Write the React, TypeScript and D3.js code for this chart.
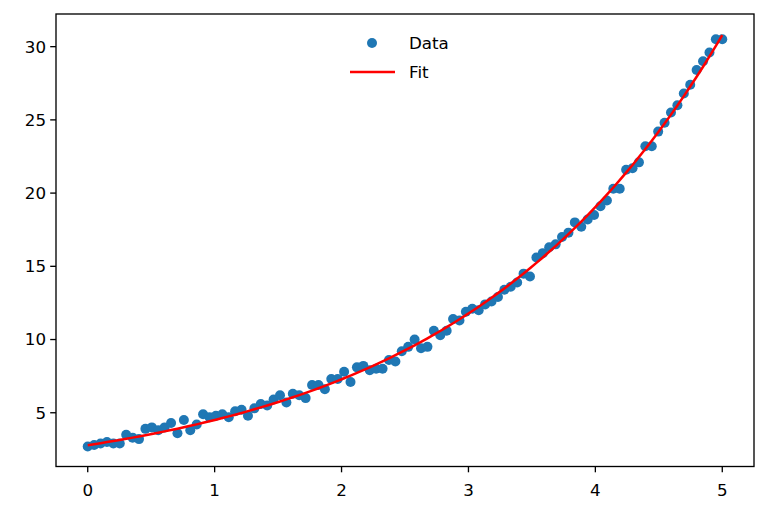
import React from 'react';
import * as d3 from 'd3';

// sample positions (100 evenly spaced points on [0, 5])
const xValues: number[] = Array.from({ length: 100 }, (_, i) => (i * 5) / 99);

const yValues: number[] = [
  2.7, 2.8, 2.9, 3.0, 2.9, 2.9, 3.5, 3.3, 3.2, 3.9,
  4.0, 3.8, 4.0, 4.3, 3.6, 4.5, 3.8, 4.2, 4.9, 4.7,
  4.8, 4.9, 4.7, 5.1, 5.2, 4.8, 5.3, 5.6, 5.5, 5.9,
  6.2, 5.7, 6.3, 6.2, 6.0, 6.9, 6.9, 6.6, 7.3, 7.3,
  7.8, 7.1, 8.1, 8.2, 7.9, 8.0, 8.0, 8.6, 8.5, 9.2,
  9.5, 10.0, 9.4, 9.5, 10.6, 10.3, 10.6, 11.4, 11.3, 11.9,
  12.1, 12.0, 12.4, 12.6, 12.9, 13.4, 13.6, 13.9, 14.5, 14.3,
  15.6, 15.9, 16.3, 16.5, 17.0, 17.3, 18.0, 17.7, 18.2, 18.5,
  19.1, 19.5, 20.3, 20.3, 21.6, 21.7, 22.1, 23.2, 23.2, 24.2,
  24.8, 25.5, 26.0, 26.8, 27.4, 28.4, 29.0, 29.6, 30.5, 30.5,
];

const xTicks = [0, 1, 2, 3, 4, 5];
const yTicks = [5, 10, 15, 20, 25, 30];
const legendLabels = ['Data', 'Fit'];

// least-squares fit of y = a * exp(b x) (log-linear start, then Gauss-Newton)
function fitExp(xs: number[], ys: number[]): [number, number] {
  const n = xs.length;
  const lx = d3.mean(xs)!;
  const ly = d3.mean(ys.map(Math.log))!;
  let sxy = 0, sxx = 0;
  for (let i = 0; i < n; i++) {
    sxy += (xs[i] - lx) * (Math.log(ys[i]) - ly);
    sxx += (xs[i] - lx) ** 2;
  }
  let b = sxy / sxx;
  let a = Math.exp(ly - b * lx);
  for (let it = 0; it < 30; it++) {
    let jaa = 0, jab = 0, jbb = 0, ga = 0, gb = 0;
    for (let i = 0; i < n; i++) {
      const e = Math.exp(b * xs[i]);
      const r = ys[i] - a * e;
      const da = e, db = a * xs[i] * e;
      jaa += da * da; jab += da * db; jbb += db * db;
      ga += da * r; gb += db * r;
    }
    const det = jaa * jbb - jab * jab;
    a += (jbb * ga - jab * gb) / det;
    b += (jaa * gb - jab * ga) / det;
  }
  return [a, b];
}

const App: React.FC = () => {
  const width = 768;
  const height = 517;
  const margin = { left: 56, right: 14, top: 14, bottom: 50.5 };
  const innerW = width - margin.left - margin.right;
  const innerH = height - margin.top - margin.bottom;

  const x = d3.scaleLinear().domain([-0.25, 5.25]).range([0, innerW]);
  const y = d3.scaleLinear().domain([1.33, 32.23]).range([innerH, 0]);

  const [a, b] = fitExp(xValues, yValues);
  const fitLine = d3.line<number>()
    .x(d => x(d))
    .y(d => y(a * Math.exp(b * d)));

  const blue = '#1f77b4';
  const font = 'DejaVu Sans, sans-serif';
  const fs = 16.7;

  return (
    <svg width={width} height={height} style={{ position: 'absolute', left: 0, top: 0 }}>
      <rect width={width} height={height} fill="white" />
      <g transform={`translate(${margin.left},${margin.top})`}>
        {xValues.map((d, i) => (
          <circle key={i} cx={x(d)} cy={y(yValues[i])} r={5} fill={blue} />
        ))}
        <path d={fitLine(xValues) || ''} fill="none" stroke="red" strokeWidth={2.5} />

        <rect x={0} y={0} width={innerW} height={innerH} fill="none" stroke="black" strokeWidth={1.33} />

        {xTicks.map(t => (
          <g key={t} transform={`translate(${x(t)},${innerH})`}>
            <line y2={5.8} stroke="black" strokeWidth={1.33} />
            <text y={25} textAnchor="middle" fontFamily={font} fontSize={fs} dominantBaseline="middle">{t}</text>
          </g>
        ))}
        {yTicks.map(t => (
          <g key={t} transform={`translate(0,${y(t)})`}>
            <line x2={-5.8} stroke="black" strokeWidth={1.33} />
            <text x={-10} textAnchor="end" fontFamily={font} fontSize={fs} dy="0.35em">{t}</text>
          </g>
        ))}
      </g>

      {/* legend */}
      <g>
        <circle cx={372} cy={43} r={5} fill={blue} />
        <text x={409} y={43} dy="0.35em" fontFamily={font} fontSize={fs}>{legendLabels[0]}</text>
        <line x1={350} x2={395} y1={72} y2={72} stroke="red" strokeWidth={2.5} />
        <text x={409} y={72} dy="0.35em" fontFamily={font} fontSize={fs}>{legendLabels[1]}</text>
      </g>
    </svg>
  );
};

export default App;
